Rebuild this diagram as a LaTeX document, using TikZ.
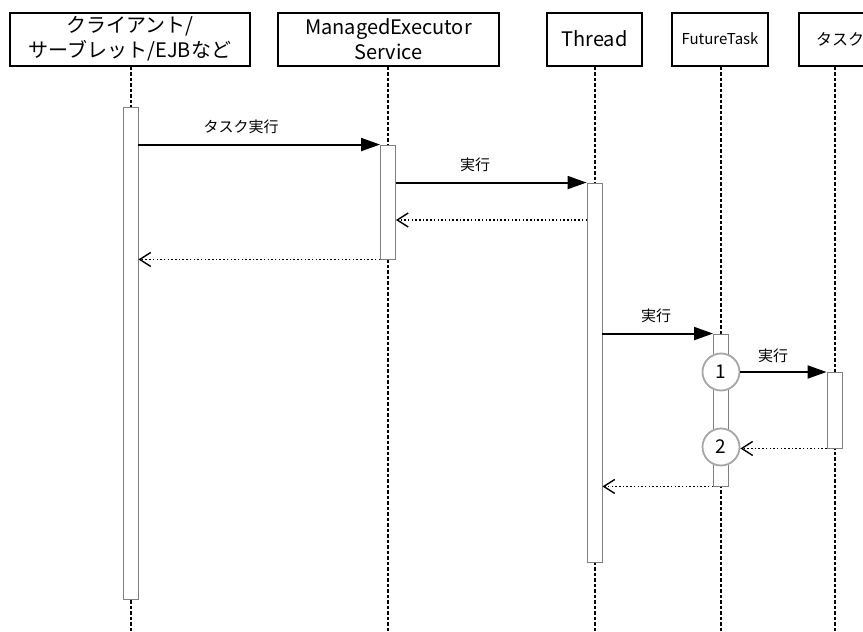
\documentclass[tikz,border=0pt]{standalone}
\usepackage{fontspec}
\setmainfont{Noto Sans CJK JP}
\usetikzlibrary{arrows.meta,calc}
\begin{document}
\begin{tikzpicture}[x=1pt,y=-1pt,
  head/.style={draw=black,line width=2pt,fill=white,inner sep=0pt,align=center,
    font=\fontsize{20}{25}\selectfont,minimum height=53pt},
  life/.style={line width=2pt,dash pattern=on 3.5pt off 2pt},
  bar/.style={draw=black!50,line width=0.9pt,fill=white,inner sep=0pt,minimum width=15pt},
  call/.style={line width=2pt,-{Triangle[length=19pt,width=13pt]}},
  ret/.style={line width=1.6pt,dash pattern=on 1.5pt off 2.2pt,-{Straight Barb[length=11pt,width=14pt,line width=1.4pt]}},
  lbl/.style={font=\fontsize{15}{18}\selectfont,inner sep=0pt},
  num/.style={circle,draw=black!35,line width=1.8pt,fill=white,minimum size=37pt,inner sep=0pt,
    font=\fontsize{19}{22}\selectfont}]
\useasboundingbox (0,0) rectangle (863,632);
% heads
\node[head,minimum width=240pt] (client) at (130,39) {クライアント/\\サーブレット/EJBなど};
\node[head,minimum width=221pt] (mes) at (388.5,39) {ManagedExecutor\\Service};
\node[head,minimum width=95pt] (thread) at (594.5,39) {Thread};
\node[head,minimum width=96pt,font=\fontsize{15}{18}\selectfont] (ft) at (720,39) {FutureTask};
\node[head,minimum width=72pt,text width=72pt,font=\fontsize{16}{20}\selectfont] (task) at (835,39) {\hspace*{10pt}タスク\hfill};
% lifelines
\coordinate (clientend) at (131,632);
\coordinate (mesend) at (388,632);
\coordinate (threadend) at (594.5,632);
\coordinate (ftend) at (721,632);
\coordinate (taskend) at (835,632);
\draw[life] (client.south -| clientend) -- (clientend);
\draw[life] (mes.south -| mesend) -- (mesend);
\draw[life] (thread.south -| threadend) -- (threadend);
\draw[life] (ft.south -| ftend) -- (ftend);
\draw[life] (task.south -| taskend) -- (taskend);
% activation bars
\node[bar,minimum height=492pt] (cbar) at (130.5,353) {};
\node[bar,minimum height=114pt] (mbar) at (388,202) {};
\node[bar,minimum height=379pt] (tbar) at (594.5,372.5) {};
\node[bar,minimum height=152pt] (fbar) at (721,410) {};
\node[bar,minimum height=76pt] (kbar) at (834.5,410) {};
% circles
\node[num] (c1) at (721,372) {1};
\node[num] (c2) at (721,447) {2};
% messages
\draw[call] (cbar.east |- mbar.north) -- (mbar.north west);
\node[lbl] (l1) at (241,127) {タスク実行};
\draw[call] (mbar.east |- tbar.north) -- (tbar.north west);
\node[lbl] (l2) at (475,165) {実行};
\coordinate (r1) at (587,220);
\draw[ret] (r1) -- (mbar.east |- r1);
\draw[ret] (mbar.south west) -- (cbar.east |- mbar.south);
\draw[call] (tbar.east |- fbar.north) -- (fbar.north west);
\node[lbl] (l3) at (656,316) {実行};
\draw[call] (c1.east) -- (kbar.west |- c1.east);
\node[lbl] (l4) at (773,356) {実行};
\draw[ret] (kbar.south west) -- (c2.east |- kbar.south);
\draw[ret] (fbar.south west) -- (tbar.east |- fbar.south);
\end{tikzpicture}
\end{document}
